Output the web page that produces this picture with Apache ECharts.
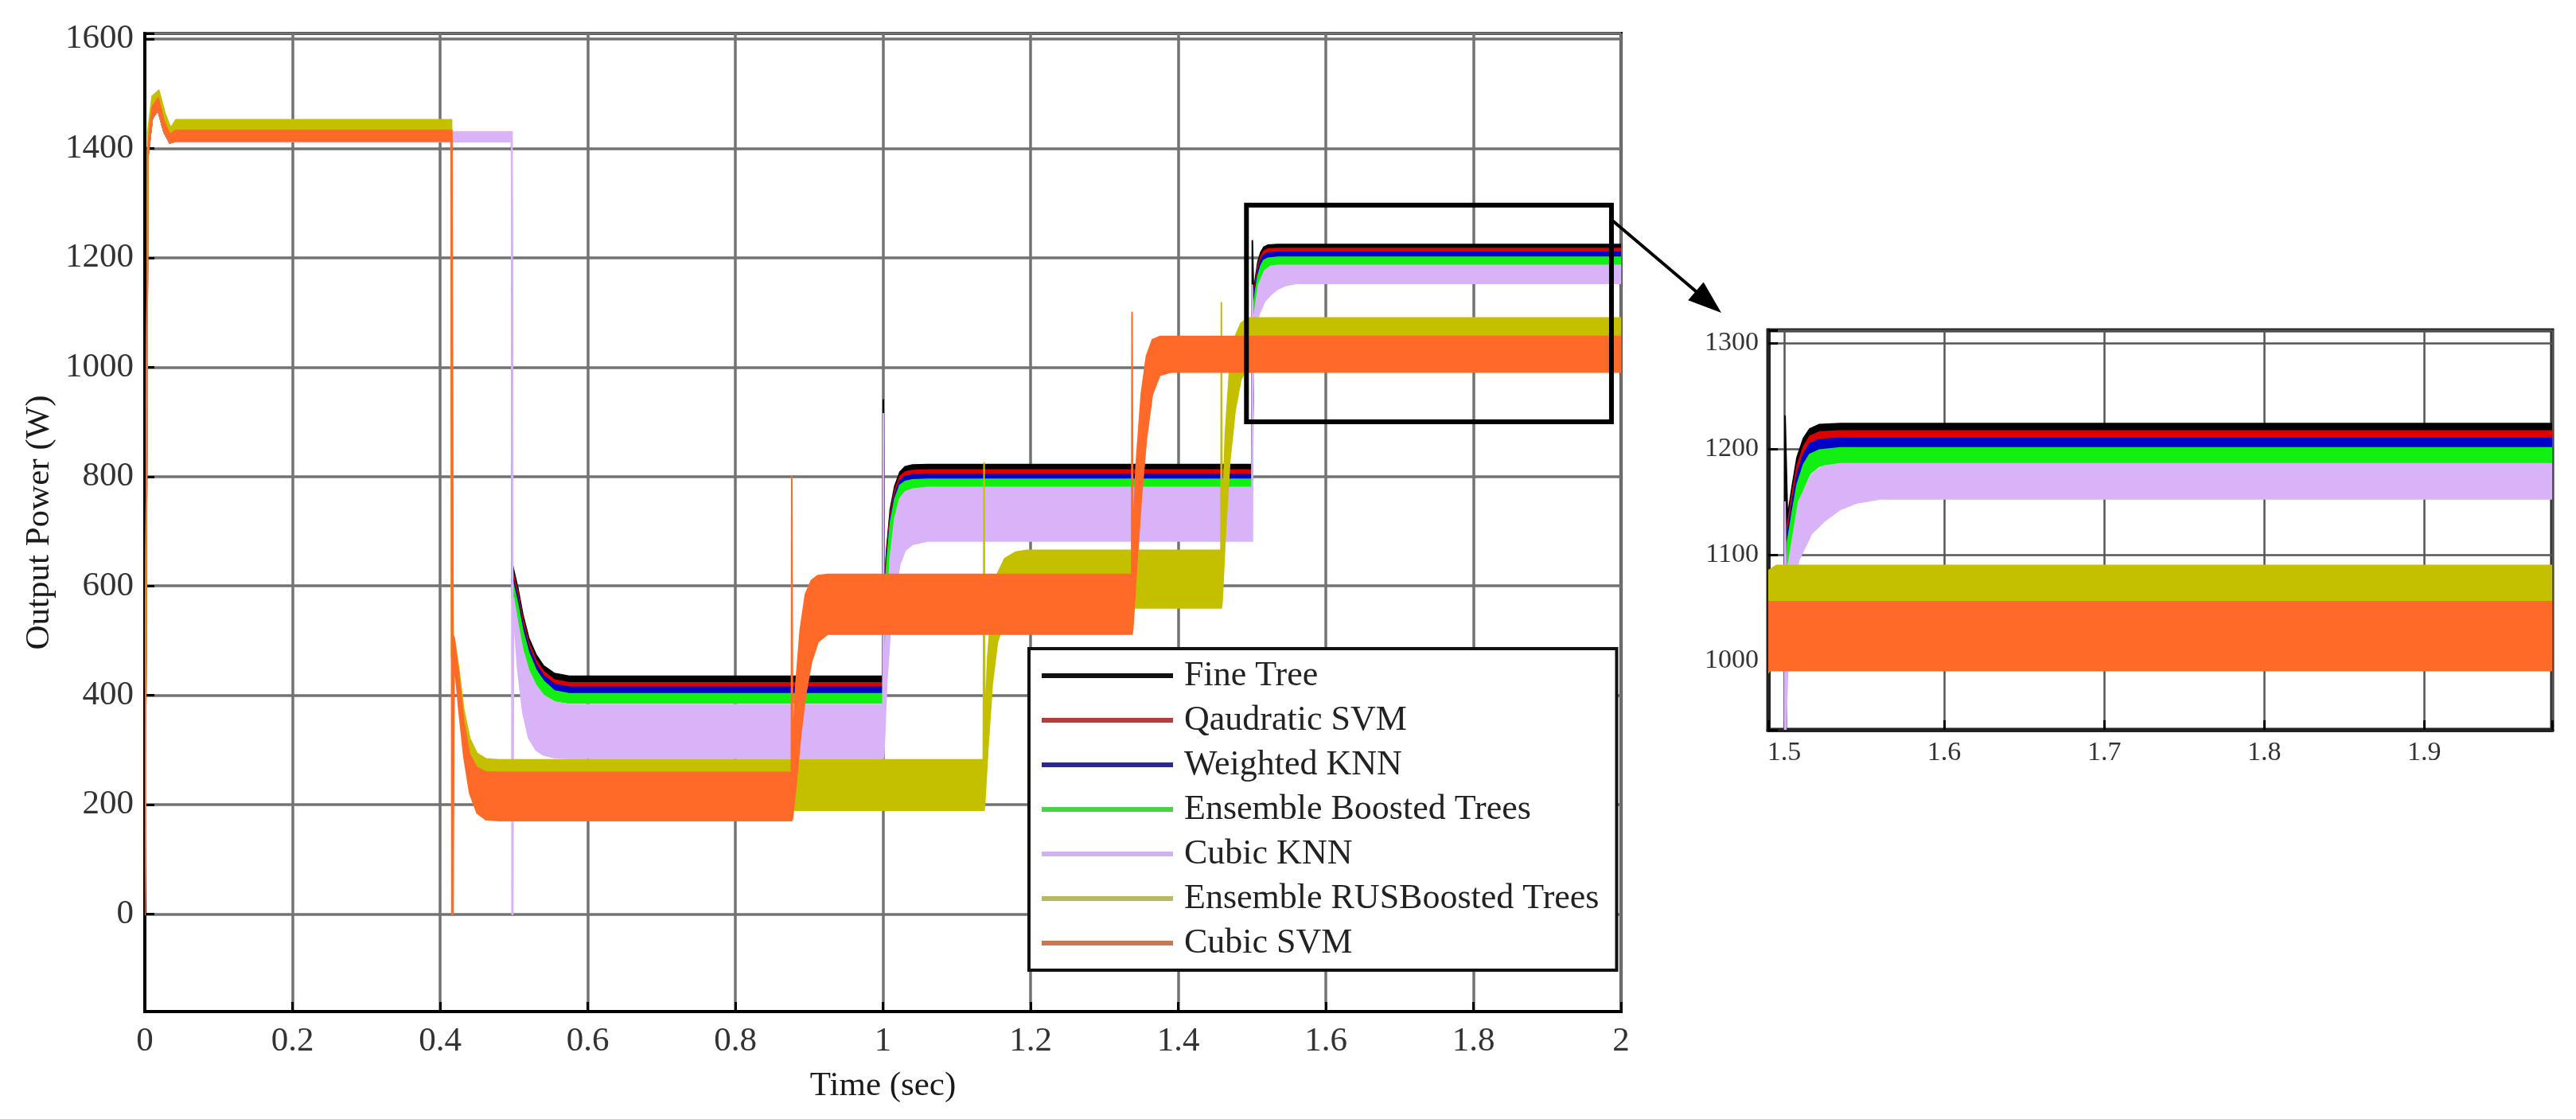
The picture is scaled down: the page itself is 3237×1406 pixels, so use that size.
<!DOCTYPE html>
<html>
<head>
<meta charset="utf-8">
<title>Output Power</title>
<script src="https://cdn.jsdelivr.net/npm/echarts@6/dist/echarts.min.js"></script>
<style>
  html, body { margin: 0; padding: 0; background: #fff; }
  #chart { width: 3237px; height: 1406px; }
</style>
</head>
<body>
<div id="chart"></div>
<script>
// legend order = drawing order
const modelNames = ['Fine Tree', 'Qaudratic SVM', 'Weighted KNN', 'Ensemble Boosted Trees',
  'Cubic KNN', 'Ensemble RUSBoosted Trees', 'Cubic SVM'];
const modelColors = ['#000000', '#dd0000', '#0000c8', '#12ef12', '#d9b3f7', '#c4c000', '#ff6a28'];
const legendColors = ['#111111', '#b83a3a', '#2a2a8a', '#4ad04a', '#cfb2ee', '#b8b860', '#c87850'];

// each row: [time (s), low edge of ripple band (W), high edge (W)]
const fineTree = [
  [0, 0, 0], [0.004, 1385, 1400], [0.010, 1455, 1475], [0.018, 1470, 1492], [0.026, 1430, 1450],
  [0.034, 1410, 1425], [0.042, 1414, 1429], [0.497, 1414, 1429],
  [0.4975, 610, 641], [0.505, 565, 598], [0.512, 515, 548], [0.52, 478, 505], [0.53, 450, 474],
  [0.54, 433, 454], [0.555, 421, 440], [0.575, 417, 435], [1.0, 417, 435],
  [1.0005, 417, 940], [1.0015, 440, 580], [1.005, 575, 665], [1.010, 690, 740], [1.016, 752, 782],
  [1.023, 790, 808], [1.030, 802, 818], [1.040, 807, 821], [1.06, 808, 822], [1.5, 808, 822],
  [1.5005, 808, 1231], [1.502, 1100, 1135], [1.505, 1135, 1165], [1.508, 1168, 1192], [1.512, 1192, 1210],
  [1.516, 1206, 1219], [1.522, 1212, 1223], [1.535, 1214, 1224], [2.0, 1214, 1224]
];
const quadraticSvm = [
  [0, 0, 0], [0.004, 1385, 1400], [0.010, 1455, 1475], [0.018, 1470, 1492], [0.026, 1430, 1450],
  [0.034, 1410, 1425], [0.042, 1414, 1429], [0.497, 1414, 1429],
  [0.4975, 600, 630], [0.505, 556, 588], [0.512, 506, 538], [0.52, 470, 496], [0.53, 442, 464],
  [0.54, 426, 444], [0.555, 415, 428], [0.575, 411, 423], [1.0, 411, 423],
  [1.0015, 432, 565], [1.005, 565, 655], [1.010, 682, 732], [1.016, 744, 774], [1.023, 782, 800],
  [1.030, 794, 808], [1.040, 799, 811], [1.06, 800, 812], [1.5, 800, 812],
  [1.502, 1095, 1128], [1.505, 1128, 1158], [1.508, 1160, 1184], [1.512, 1184, 1202],
  [1.516, 1198, 1212], [1.522, 1204, 1216], [1.535, 1206, 1217], [2.0, 1206, 1217]
];
const weightedKnn = [
  [0, 0, 0], [0.004, 1385, 1400], [0.010, 1455, 1475], [0.018, 1470, 1492], [0.026, 1430, 1450],
  [0.034, 1410, 1425], [0.042, 1414, 1429], [0.497, 1414, 1429],
  [0.4975, 592, 620], [0.505, 548, 578], [0.512, 498, 528], [0.52, 462, 488], [0.53, 434, 456],
  [0.54, 418, 436], [0.555, 407, 420], [0.575, 403, 415], [1.0, 403, 415],
  [1.0015, 425, 550], [1.005, 555, 645], [1.010, 673, 724], [1.016, 736, 766], [1.023, 774, 792],
  [1.030, 786, 800], [1.040, 791, 803], [1.06, 792, 804], [1.5, 792, 804],
  [1.502, 1090, 1120], [1.505, 1120, 1150], [1.508, 1152, 1176], [1.512, 1176, 1195],
  [1.516, 1191, 1205], [1.522, 1197, 1209], [1.535, 1199, 1210], [2.0, 1199, 1210]
];
const boostedTrees = [
  [0, 0, 0], [0.004, 1385, 1400], [0.010, 1455, 1475], [0.018, 1470, 1492], [0.026, 1430, 1450],
  [0.034, 1410, 1425], [0.042, 1414, 1429], [0.497, 1414, 1429],
  [0.4975, 580, 612], [0.505, 535, 568], [0.512, 485, 518], [0.52, 448, 478], [0.53, 420, 446],
  [0.54, 402, 426], [0.555, 390, 408], [0.575, 386, 403], [1.0, 386, 403],
  [1.0015, 418, 540], [1.005, 540, 635], [1.010, 655, 715], [1.016, 725, 758], [1.023, 762, 784],
  [1.030, 774, 791], [1.040, 779, 794], [1.06, 780, 795], [1.5, 780, 795],
  [1.502, 1085, 1112], [1.505, 1110, 1140], [1.508, 1140, 1166], [1.512, 1163, 1185],
  [1.516, 1177, 1195], [1.522, 1184, 1199], [1.535, 1186, 1201], [2.0, 1186, 1201]
];
const cubicKnn = [
  [0, 0, 0], [0.004, 1385, 1400], [0.010, 1455, 1475], [0.018, 1470, 1492], [0.026, 1430, 1450],
  [0.034, 1410, 1425], [0.042, 1412, 1430], [0.497, 1412, 1430],
  [0.4975, 0, 1430], [0.4985, 0, 578], [0.4995, 555, 578], [0.505, 450, 533], [0.512, 370, 483],
  [0.52, 322, 446], [0.53, 300, 418], [0.54, 291, 400], [0.555, 286, 388], [0.575, 285, 383], [1.0, 285, 383],
  [1.0005, 285, 915], [1.0015, 300, 415], [1.005, 420, 538], [1.010, 520, 653], [1.016, 590, 723],
  [1.023, 640, 760], [1.030, 665, 772], [1.040, 676, 777], [1.06, 682, 780], [1.5, 682, 780],
  [1.5005, 682, 1150], [1.501, 935, 1080], [1.503, 1040, 1095], [1.509, 1095, 1150], [1.517, 1120, 1176],
  [1.525, 1132, 1184], [1.535, 1143, 1186], [1.545, 1149, 1186], [1.56, 1153, 1186], [2.0, 1153, 1186]
];
const rusBoostedTrees = [
  [0, 0, 0], [0.004, 1395, 1430], [0.010, 1470, 1495], [0.019, 1490, 1506], [0.027, 1445, 1465],
  [0.035, 1415, 1437], [0.042, 1431, 1452], [0.415, 1431, 1452],
  [0.4155, 470, 1452], [0.4175, 470, 508], [0.419, 462, 506], [0.425, 392, 452], [0.432, 312, 375],
  [0.440, 244, 322], [0.450, 207, 294], [0.462, 193, 284], [0.48, 190, 282], [1.136, 190, 282],
  [1.137, 190, 825], [1.138, 205, 335], [1.142, 300, 470], [1.148, 420, 572], [1.155, 497, 622],
  [1.165, 538, 650], [1.18, 555, 662], [1.195, 560, 665], [1.458, 560, 665],
  [1.4585, 560, 1118], [1.4595, 572, 700], [1.464, 700, 880], [1.470, 830, 1000], [1.477, 920, 1055],
  [1.485, 978, 1080], [1.495, 1000, 1090], [2.0, 1000, 1090]
];
const cubicSvm = [
  [0, 0, 0], [0.004, 1385, 1400], [0.010, 1455, 1475], [0.018, 1470, 1492], [0.026, 1430, 1450],
  [0.034, 1410, 1425], [0.042, 1413, 1433], [0.415, 1413, 1433],
  [0.416, 0, 1433], [0.4175, 0, 510], [0.419, 470, 505], [0.425, 380, 440], [0.432, 290, 352],
  [0.440, 222, 292], [0.450, 185, 268], [0.462, 173, 260], [0.48, 171, 259], [0.876, 171, 259],
  [0.8765, 171, 800], [0.8775, 176, 300], [0.882, 232, 420], [0.888, 320, 520], [0.895, 400, 585],
  [0.903, 460, 610], [0.912, 498, 619], [0.925, 512, 621], [1.337, 512, 621],
  [1.3375, 512, 1100], [1.3385, 522, 680], [1.343, 620, 820], [1.350, 760, 950], [1.357, 870, 1020],
  [1.365, 950, 1050], [1.375, 985, 1056], [1.39, 991, 1056], [2.0, 991, 1056]
];
const models = [fineTree, quadraticSvm, weightedKnn, boostedTrees, cubicKnn, rusBoostedTrees, cubicSvm];

// the zoomed window marked on the main plot
const zoomBoxTime = [1.4925, 1.987];
const zoomBoxPower = [900, 1296];

const serif = 'Liberation Serif';
const chart = echarts.init(document.getElementById('chart'));

// one ripple band per model: polygon along the high edge, back along the low edge
function bandSeries(i, g) {
  const rows = models[i];
  const color = modelColors[i];
  return {
    type: 'custom', name: modelNames[i], xAxisIndex: g, yAxisIndex: g,
    data: rows, clip: true, silent: true, animation: false,
    itemStyle: { color: color },
    encode: { x: 0, y: [1, 2] },
    renderItem: function (params, api) {
      if (params.dataIndex !== 0) return null;
      const top = rows.map(r => api.coord([r[0], r[2]]));
      const bottom = rows.map(r => api.coord([r[0], r[1]])).reverse();
      return {
        type: 'polygon',
        shape: { points: top.concat(bottom) },
        style: { fill: color, stroke: color, lineWidth: 2, lineJoin: 'round' }
      };
    }
  };
}

const series = [];
for (let g = 0; g < 2; g++) {
  for (let i = 0; i < models.length; i++) series.push(bandSeries(i, g));
}

const gridLine = { show: true, lineStyle: { color: '#737373', width: 3.5 } };
const tickIn = { show: true, inside: true, length: 12, lineStyle: { color: '#000', width: 3 } };

chart.setOption({
  animation: false,
  backgroundColor: '#fff',
  grid: [
    { left: 182, top: 42, width: 1855, height: 1229, show: true, borderColor: '#000', borderWidth: 4 },
    { left: 2222, top: 415, width: 985, height: 502, show: true, borderColor: '#222', borderWidth: 5 }
  ],
  xAxis: [
    {
      type: 'value', gridIndex: 0, min: 0, max: 2, interval: 0.2,
      axisLine: { show: true, onZero: false, lineStyle: { color: '#000', width: 4 } },
      axisTick: tickIn, splitLine: gridLine,
      axisLabel: { fontFamily: serif, fontSize: 43, color: '#333', margin: 16 },
      name: 'Time (sec)', nameLocation: 'middle', nameGap: 72,
      nameTextStyle: { fontFamily: serif, fontSize: 43, color: '#1a1a1a' }
    },
    {
      type: 'value', gridIndex: 1, min: 1.49, max: 1.98, splitNumber: 5,
      axisLine: { show: true, onZero: false, lineStyle: { color: '#222', width: 5 } },
      axisTick: tickIn, splitLine: { show: true, lineStyle: { color: '#555', width: 2.5 } },
      axisLabel: {
        fontFamily: serif, fontSize: 34, color: '#333', margin: 12,
        formatter: v => Math.abs(v * 10 - Math.round(v * 10)) < 1e-6 ? v.toFixed(1) : ''
      }
    }
  ],
  yAxis: [
    {
      type: 'value', gridIndex: 0, min: -178, max: 1610, splitNumber: 9,
      axisLine: { show: true, onZero: false, lineStyle: { color: '#000', width: 4 } },
      axisTick: tickIn, splitLine: gridLine,
      axisLabel: {
        fontFamily: serif, fontSize: 43, color: '#333', margin: 14,
        formatter: v => (Math.abs(v % 200) < 1e-6 ? String(Math.round(v)) : '')
      },
      name: 'Output Power (W)', nameLocation: 'middle', nameGap: 108,
      nameTextStyle: { fontFamily: serif, fontSize: 43, color: '#1a1a1a' }
    },
    {
      type: 'value', gridIndex: 1, min: 935, max: 1312, splitNumber: 4,
      axisLine: { show: true, onZero: false, lineStyle: { color: '#222', width: 5 } },
      axisTick: tickIn, splitLine: { show: true, lineStyle: { color: '#555', width: 2.5 } },
      axisLabel: {
        fontFamily: serif, fontSize: 34, color: '#333', margin: 12,
        formatter: v => (Math.abs(v % 100) < 1e-6 ? String(Math.round(v)) : '')
      }
    }
  ],
  legend: {
    orient: 'vertical', left: 1293, top: 815,
    data: modelNames.map((n, i) => ({ name: n, itemStyle: { color: legendColors[i] } })),
    icon: 'rect', itemWidth: 165, itemHeight: 6, itemGap: 8,
    padding: [10, 22, 10, 16],
    backgroundColor: '#fff', borderColor: '#111', borderWidth: 4,
    selectedMode: false, z: 10,
    textStyle: { fontFamily: serif, fontSize: 44, color: '#222', lineHeight: 48, padding: [0, 0, 0, 9] }
  },
  series: series
});

// zoom box on the main plot, placed through the main axes, and the arrow to the inset
const tl = chart.convertToPixel({ xAxisIndex: 0, yAxisIndex: 0 }, [zoomBoxTime[0], zoomBoxPower[1]]);
const br = chart.convertToPixel({ xAxisIndex: 0, yAxisIndex: 0 }, [zoomBoxTime[1], zoomBoxPower[0]]);
const arrowFrom = [br[0] + 2, tl[1] + 20];
const arrowTo = [2163, 393];
const dx = arrowTo[0] - arrowFrom[0], dy = arrowTo[1] - arrowFrom[1];
const len = Math.sqrt(dx * dx + dy * dy);
const ux = dx / len, uy = dy / len;
const headLen = 42, headHalf = 15;
const bx = arrowTo[0] - ux * headLen, by = arrowTo[1] - uy * headLen;

chart.setOption({
  graphic: [
    {
      type: 'rect', z: 50, silent: true,
      shape: { x: tl[0], y: tl[1], width: br[0] - tl[0], height: br[1] - tl[1] },
      style: { fill: null, stroke: '#000', lineWidth: 6 }
    },
    {
      type: 'line', z: 50, silent: true,
      shape: { x1: arrowFrom[0], y1: arrowFrom[1], x2: bx + ux * 4, y2: by + uy * 4 },
      style: { stroke: '#000', lineWidth: 4 }
    },
    {
      type: 'polygon', z: 50, silent: true,
      shape: { points: [arrowTo, [bx - uy * headHalf, by + ux * headHalf], [bx + uy * headHalf, by - ux * headHalf]] },
      style: { fill: '#000' }
    }
  ]
});
</script>
</body>
</html>
